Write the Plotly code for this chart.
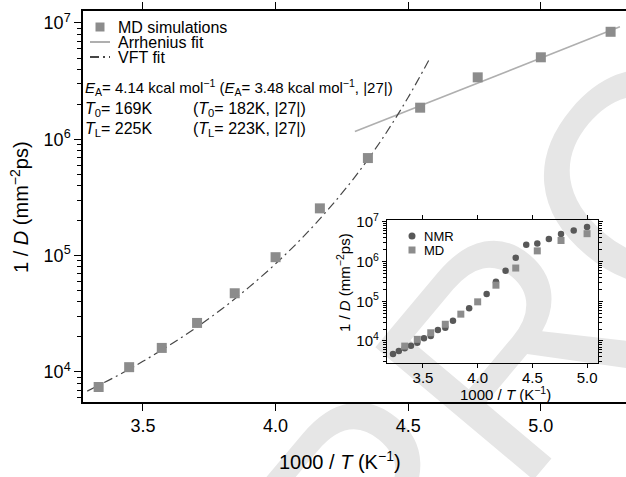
import base64
import plotly.graph_objects as go

# ---------------- data ----------------
md_x = [3.333, 3.448, 3.571, 3.704, 3.846, 4.000, 4.167, 4.348, 4.545, 4.762, 5.000, 5.263]
md_y = [7430, 11000, 16100, 26400, 47500, 97000, 255000, 690000, 1870000, 3410000, 5070000, 8400000]

arr_x = [4.299, 5.298]
arr_y = [1165000, 9270000]

vft_x = [3.29, 3.40, 3.50, 3.60, 3.70, 3.80, 3.90, 4.00, 4.10, 4.20, 4.30, 4.40, 4.50, 4.58]
vft_y = [6850, 9200, 12350, 16980, 24040, 35160, 53600, 85100, 142000, 252000, 478000, 993000, 2300000, 4900000]

nmr_x = [3.226, 3.279, 3.333, 3.390, 3.448, 3.509, 3.571, 3.636, 3.704, 3.774, 3.922,
         4.082, 4.167, 4.255, 4.348, 4.444, 4.545, 4.651, 4.762, 4.878, 5.000]
nmr_y = [4700, 5600, 6550, 7600, 9060, 11700, 13400, 18900, 21600, 32400, 66500,
         153000, 310000, 590000, 1260000, 2650000, 2880000, 3700000, 4950000, 6100000, 7500000]

x_ticks = [3.5, 4.0, 4.5, 5.0]
x_ticklabels = ["3.5", "4.0", "4.5", "5.0"]
y_ticks = [1e4, 1e5, 1e6, 1e7]
y_ticklabels = ["10<sup>4</sup>", "10<sup>5</sup>", "10<sup>6</sup>", "10<sup>7</sup>"]
y_minor = [m * 10 ** e for e in range(3, 8) for m in range(2, 10)]

tl_x, tl_y = 4.44, 1.72e6

FONT = "Liberation Sans, Arial, Helvetica, sans-serif"
SQ = "rgb(140,140,140)"
CIRC = "rgb(88,88,88)"
ARR = "rgb(175,175,175)"
VFT = "rgb(70,70,70)"

W, H = 626, 477
ML, MR, MT, MB = 83, 0, 11, 75
PW, PH = W - ML - MR, H - MT - MB


def px(x):
    return (x - ML) / PW


def py(y):
    return (H - MB - y) / PH


fig = go.Figure()

# main plot
fig.add_trace(go.Scatter(x=arr_x, y=arr_y, mode="lines",
                         line=dict(color=ARR, width=1.6), showlegend=False))
fig.add_trace(go.Scatter(x=vft_x, y=vft_y, mode="lines", line_shape="spline",
                         line=dict(color=VFT, width=1.2, dash="9px,4px,2px,4px"), showlegend=False))
fig.add_trace(go.Scatter(x=md_x, y=md_y, mode="markers",
                         marker=dict(symbol="square", size=10, color=SQ), showlegend=False))

# inset
fig.add_trace(go.Scatter(x=nmr_x, y=nmr_y, mode="markers", xaxis="x2", yaxis="y2",
                         marker=dict(symbol="circle", size=6.5, color=CIRC), showlegend=False))
fig.add_trace(go.Scatter(x=md_x, y=md_y, mode="markers", xaxis="x2", yaxis="y2",
                         marker=dict(symbol="square", size=7, color=SQ), showlegend=False))

axis_common = dict(showline=True, linecolor="black", showgrid=False, zeroline=False,
                   ticks="outside", tickcolor="black")

fig.update_layout(
    width=W, height=H, autosize=False,
    margin=dict(l=ML, r=MR, t=MT, b=MB, pad=0),
    paper_bgcolor="white", plot_bgcolor="rgba(0,0,0,0)",
    font=dict(family=FONT, color="black"),
    xaxis=dict(range=[3.274, 5.321], domain=[0, 1], linewidth=1.5, ticklen=7, tickwidth=1.3,
               mirror="ticks", tickvals=x_ticks, ticktext=x_ticklabels,
               tickfont=dict(size=18), **axis_common),
    yaxis=dict(type="log", range=[3.742, 7.103], domain=[0, 1], linewidth=1.5, ticklen=7,
               tickwidth=1.3, tickvals=y_ticks, ticktext=y_ticklabels, tickfont=dict(size=18),
               minor=dict(tickvals=y_minor, ticks="outside", ticklen=4, tickcolor="black"),
               **axis_common),
    xaxis2=dict(range=[3.171, 5.10], domain=[px(387), px(598)], anchor="y2", linewidth=1.2,
                ticklen=4, mirror="allticks", tickvals=x_ticks, ticktext=x_ticklabels,
                tickfont=dict(size=15), ticklabelstandoff=-3, **axis_common),
    yaxis2=dict(type="log", range=[3.445, 7.05], domain=[py(363), py(220)], anchor="x2",
                linewidth=1.2, ticklen=4, mirror="allticks", tickvals=y_ticks,
                ticktext=y_ticklabels, tickfont=dict(size=15), ticklabelstandoff=0,
                minor=dict(tickvals=y_minor, ticks="outside", ticklen=2.5, tickcolor="black"),
                **axis_common),
    showlegend=False,
)

ann = []


def text(x, y, s, size, xanchor="left", angle=0):
    ann.append(dict(x=px(x), y=py(y), xref="paper", yref="paper", text=s, showarrow=False,
                    xanchor=xanchor, yanchor="middle", textangle=angle,
                    font=dict(size=size, family=FONT, color="black")))


# axis titles
text(340, 460, "1000 / <i>T</i> (K<sup>−1</sup>)", 20, "center")
text(19, 207, "1 / <i>D</i> (mm<sup>−2</sup>ps)", 20, "center", -90)
text(505, 393, "1000 / <i>T</i> (K<sup>−1</sup>)", 15, "center")
text(343, 283, "1 / <i>D</i> (mm<sup>−2</sup>ps)", 15, "center", -90)

# main legend
text(116, 27, "MD simulations", 16)
text(116, 42, "Arrhenius fit", 16)
text(116, 57, "VFT fit", 16)
# inset legend
text(422, 236, "NMR", 13)
text(422, 250, "MD", 13)

# fit parameters
text(83, 88, "<i>E</i><sub>A</sub>= 4.14 kcal mol<sup>−1</sup> (<i>E</i><sub>A</sub>= 3.48 kcal mol<sup>−1</sup>, |27|)", 15)
text(83, 109, "<i>T</i><sub>0</sub>= 169K", 16)
text(191, 109, "(<i>T</i><sub>0</sub>= 182K, |27|)", 16)
text(83, 129, "<i>T</i><sub>L</sub>= 225K", 16)
text(191, 129, "(<i>T</i><sub>L</sub>= 223K, |27|)", 16)

# T_L arrow
ann.append(dict(x=tl_x, y=tl_y, xref="x", yref="y", yanchor="bottom", text="<i>T</i><sub>L</sub>",
                showarrow=True, arrowhead=2, arrowsize=1.1, arrowwidth=1.2, arrowcolor="black",
                ax=-1, ay=-38, font=dict(size=16, family=FONT, color="black"), standoff=0))
fig.update_layout(annotations=ann)

# legend symbols
shapes = [
    dict(type="rect", xref="paper", yref="paper", x0=px(95.5), x1=px(104.5), y0=py(31.5), y1=py(22.5),
         fillcolor=SQ, line=dict(width=0)),
    dict(type="line", xref="paper", yref="paper", x0=px(90), x1=px(110), y0=py(42), y1=py(42),
         line=dict(color=ARR, width=2)),
    dict(type="line", xref="paper", yref="paper", x0=px(90), x1=px(110), y0=py(57), y1=py(57),
         line=dict(color=VFT, width=2, dash="9px,4px,2px,4px")),
    dict(type="circle", xref="paper", yref="paper", x0=px(408.5), x1=px(415.5), y0=py(239.5), y1=py(232.5),
         fillcolor=CIRC, line=dict(width=0)),
    dict(type="rect", xref="paper", yref="paper", x0=px(408.5), x1=px(415.5), y0=py(253.5), y1=py(246.5),
         fillcolor=SQ, line=dict(width=0)),
]
fig.update_layout(shapes=shapes)

# faint "PROOF" watermark behind everything
svg = ("<svg xmlns='http://www.w3.org/2000/svg' width='626' height='477' viewBox='0 0 626 477'>"
       "<text x='0' y='0' font-family='Liberation Sans, Arial, sans-serif' font-size='300' "
       "fill='#e6e6e6' transform='translate(389,652) rotate(-50)'>PROOF</text></svg>")
src = "data:image/svg+xml;base64," + base64.b64encode(svg.encode()).decode()
fig.add_layout_image(dict(source=src, xref="paper", yref="paper", x=px(0), y=py(0),
                          sizex=W / PW, sizey=H / PH, xanchor="left", yanchor="top",
                          sizing="stretch", layer="below"))

fig.write_html("out.html")
